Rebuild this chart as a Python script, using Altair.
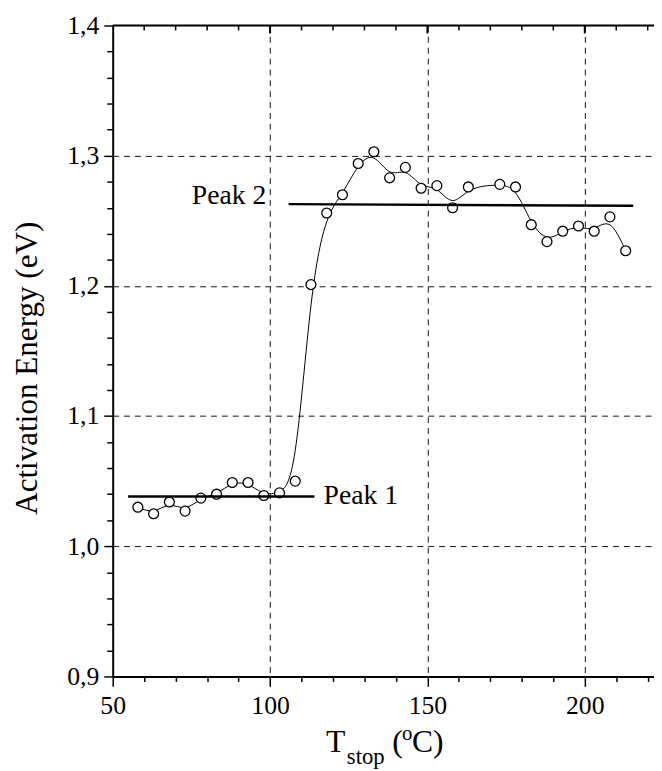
import altair as alt
import pandas as pd

# ---- data ----
t_stop = [58, 63, 68, 73, 78, 83, 88, 93, 98, 103, 108, 113, 118, 123, 128, 133,
          138, 143, 148, 153, 158, 163, 173, 178, 183, 188, 193, 198, 203, 208, 213]
energy = [1.030, 1.025, 1.034, 1.027, 1.037, 1.040, 1.049, 1.049, 1.039, 1.041, 1.050,
          1.201, 1.256, 1.270, 1.294, 1.303, 1.283, 1.291, 1.275, 1.277, 1.260, 1.276,
          1.278, 1.276, 1.247, 1.234, 1.242, 1.246, 1.242, 1.253, 1.227]

peak_names = ["Peak 1", "Peak 2"]
peak_start = [54.9, 105.9]
peak_end = [114.1, 215.4]
peak_level_start = [1.0383, 1.2628]
peak_level_end = [1.0383, 1.2615]
label_x = [117.0, 98.8]
label_y = [1.0323, 1.2626]

x_ticks = list(range(50, 230, 10))
y_ticks = [round(0.9 + 0.02 * i, 2) for i in range(26)]

FONT = "Liberation Serif"
W, H = 548, 659

df = pd.DataFrame({"t": t_stop, "e": energy})
peaks = pd.DataFrame({"name": peak_names, "t": peak_start, "x2": peak_end,
                      "e": peak_level_start, "y2": peak_level_end,
                      "lx": label_x, "ly": label_y})
top_ticks = pd.DataFrame({"t": x_ticks[1:]})
one = pd.DataFrame({"a": [0]})

xscale = alt.Scale(domain=[50, 222], nice=False, zero=False)
yscale = alt.Scale(domain=[0.9, 1.4], nice=False, zero=False)

y_major = "abs(datum.value*10 - round(datum.value*10)) < 0.000001"

xaxis = alt.Axis(
    title=None, values=x_ticks,
    labelExpr="datum.value % 50 === 0 ? format(datum.value, 'd') : ''",
    labelFont=FONT, labelFontSize=26, labelColor="black", labelPadding=7,
    labelFlush=False, labelOverlap=False,
    domainColor="black", domainWidth=2, tickColor="black", tickWidth=1.5,
    tickSize={"condition": {"test": "datum.value % 50 === 0", "value": 10}, "value": 5},
    grid=True, gridColor="#111", gridDash=[6, 5], gridWidth=1,
    gridOpacity={"condition": {"test": "datum.value % 50 === 0 && datum.value > 60", "value": 1}, "value": 0},
)
yaxis = alt.Axis(
    title=None, values=y_ticks,
    labelExpr=y_major + " ? replace(format(datum.value, '.1f'), '.', ',') : ''",
    labelFont=FONT, labelFontSize=26, labelColor="black", labelPadding=5,
    labelFlush=False, labelOverlap=False,
    domainColor="black", domainWidth=2, tickColor="black", tickWidth=1.5,
    tickSize={"condition": {"test": y_major, "value": 9}, "value": 6},
    grid=True, gridColor="#111", gridDash=[6, 5], gridWidth=1,
    gridOpacity={"condition": {"test": y_major + " && datum.value > 0.95 && datum.value < 1.35", "value": 1}, "value": 0},
)

X = alt.X("t:Q", scale=xscale, axis=xaxis)
Y = alt.Y("e:Q", scale=yscale, axis=yaxis)

curve = alt.Chart(df).mark_line(interpolate="basis", color="black", strokeWidth=1).encode(x=X, y=Y)
points = alt.Chart(df).mark_point(shape="circle", size=100, filled=True, fill="white",
                                  stroke="black", strokeWidth=1.3, opacity=1).encode(x=X, y=Y)

peak_lines = alt.Chart(peaks).mark_rule(color="black", strokeWidth=2.5).encode(
    x=X, x2="x2:Q", y=Y, y2="y2:Q")

lab1 = alt.Chart(peaks).transform_filter("datum.name == 'Peak 1'").transform_calculate(
    t="datum.lx", e="datum.ly").mark_text(
    align="left", baseline="alphabetic", font=FONT, fontSize=28, color="black").encode(
    x=X, y=Y, text="name:N")
lab2 = alt.Chart(peaks).transform_filter("datum.name == 'Peak 2'").transform_calculate(
    t="datum.lx", e="datum.ly").mark_text(
    align="right", baseline="alphabetic", font=FONT, fontSize=28, color="black").encode(
    x=X, y=Y, text="name:N")

top_border = alt.Chart(one).mark_rule(color="black", strokeWidth=2).encode(
    x=alt.value(0), x2=alt.value(W), y=alt.value(0))
top_minor = alt.Chart(top_ticks).transform_filter("datum.t % 50 !== 0").mark_rule(
    color="black", strokeWidth=1.5).encode(x=X, y=alt.value(0), y2=alt.value(5))
top_major = alt.Chart(top_ticks).transform_filter("datum.t % 50 === 0").mark_rule(
    color="black", strokeWidth=2).encode(x=X, y=alt.value(0), y2=alt.value(8))

def txt(s, x, y, size, **kw):
    return alt.Chart(one).mark_text(text=s, font=FONT, fontSize=size, color="black",
                                    align="left", baseline="alphabetic", **kw).encode(
        x=alt.value(x), y=alt.value(y))

xt = [
    txt("T", 216, 735, 32),
    txt("stop", 237, 748, 23),
    txt("(", 283, 735, 32),
    txt("o", 293, 723, 21),
    txt("C)", 303, 735, 32),
]
ytitle = alt.Chart(one).mark_text(text="Activation Energy (eV)", font=FONT, fontSize=31.5,
                                  color="black", align="center", baseline="middle",
                                  angle=270).encode(x=alt.value(-86), y=alt.value(347))

chart = alt.layer(curve, points, peak_lines, lab1, lab2, top_border, top_minor, top_major,
                  *xt, ytitle).properties(
    width=W, height=H, autosize="none",
    padding={"left": 106, "top": 13, "right": 0, "bottom": 91},
).configure_view(strokeWidth=0).configure(background="white")

chart.save("out.html", embed_options={"renderer": "svg", "actions": False})
